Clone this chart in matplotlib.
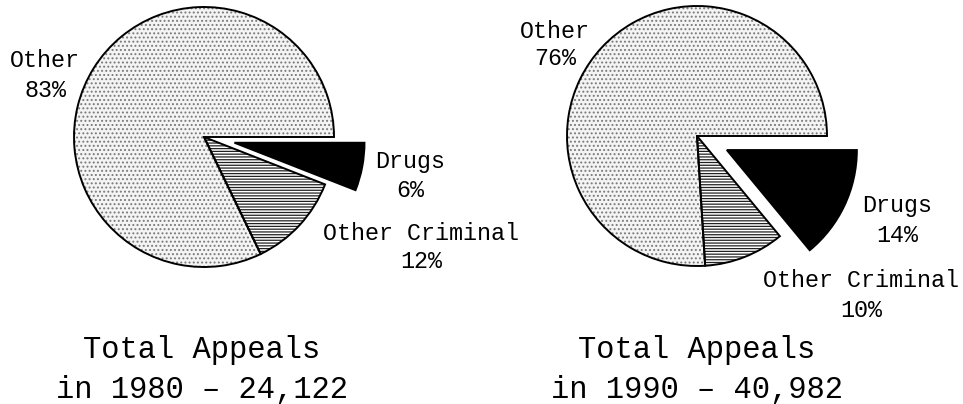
import matplotlib.pyplot as plt

# data
categories = ['Drugs', 'Other Criminal', 'Other']
pct_1980 = [6, 12, 83]
pct_1990 = [14, 10, 76]
years = [1980, 1990]
totals = ['24,122', '40,982']

plt.rcParams['hatch.linewidth'] = 0.9

W, H = 963, 404
fig = plt.figure(figsize=(W / 100, H / 100), dpi=100)
ax = fig.add_axes([0, 0, 1, 1])

R = 130
faces = ['black', 'white', '#f4f4f4']
hatches = [None, '------', '....']
hatch_cols = ['black', '#222222', '#7a7a7a']


def draw_pie(values, cx, cy, expl):
    explode = [expl, 0, 0]
    # texture layer (hatch colour follows the edge colour, so no outline here)
    wedges, _ = ax.pie(values, explode=explode, center=(cx, H - cy), radius=R,
                       startangle=0, counterclock=False, normalize=True,
                       colors=faces, wedgeprops=dict(linewidth=0))
    for w, h, c in zip(wedges, hatches, hatch_cols):
        w.set_edgecolor(c)
        w.set_linewidth(0)
        if h:
            w.set_hatch(h)
    # outline layer
    ax.pie(values, explode=explode, center=(cx, H - cy), radius=R,
           startangle=0, counterclock=False, normalize=True,
           wedgeprops=dict(fill=False, edgecolor='black', linewidth=1.4))


draw_pie(pct_1980, 204, 137, 31)
draw_pie(pct_1990, 697, 136, 33)

lab = dict(family='Liberation Mono', fontsize=16.8, ha='center', va='baseline')


def label(x, y, s):
    ax.text(x, H - y, s, **lab)


label(45, 67, 'Other')
label(45, 97, f'{pct_1980[2]}%')
label(410, 168, 'Drugs')
label(410, 197, f'{pct_1980[0]}%')
label(421, 240, 'Other Criminal')
label(421, 268, f'{pct_1980[1]}%')

label(555, 38, 'Other')
label(555, 65, f'{pct_1990[2]}%')
label(897, 212, 'Drugs')
label(897, 242, f'{pct_1990[0]}%')
label(861, 287, 'Other Criminal')
label(861, 317, f'{pct_1990[1]}%')

tt = dict(family='Liberation Mono', fontsize=22, ha='center', va='baseline')
for x, yr, tot in zip([202, 697], years, totals):
    ax.text(x, H - 358, 'Total Appeals', **tt)
    ax.text(x, H - 398, f'in {yr} \u2013 {tot}', **tt)

ax.set_xlim(0, W)
ax.set_ylim(0, H)
ax.set_aspect('auto')
ax.axis('off')

fig.savefig('out.png', dpi=100, facecolor='white')
